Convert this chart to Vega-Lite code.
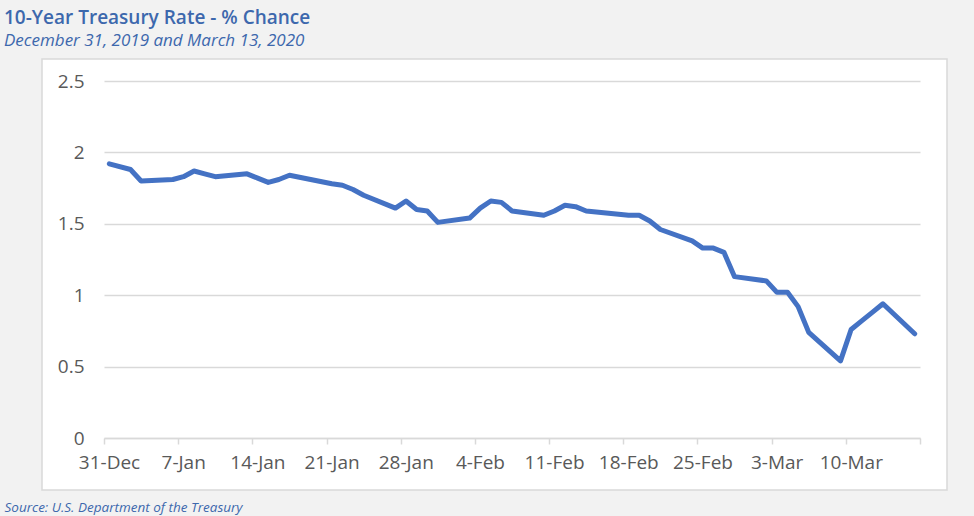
{
  "$schema": "https://vega.github.io/schema/vega-lite/v6.json",
  "autosize": "none",
  "width": 905,
  "height": 431,
  "padding": {"left": 42, "top": 59, "right": 27, "bottom": 26},
  "background": "#f2f2f2",
  "config": {
    "view": {"fill": "white", "stroke": "#d9d9d9", "strokeWidth": 1.5},
    "font": "Open Sans"
  },
  "title": {
    "text": "10-Year Treasury Rate - % Chance",
    "subtitle": "December 31, 2019 and March 13, 2020",
    "anchor": "start",
    "frame": "group",
    "dx": -38,
    "offset": 10,
    "font": "Open Sans",
    "fontSize": 19,
    "fontWeight": 600,
    "color": "#3d68ad",
    "subtitleFont": "Open Sans",
    "subtitleFontSize": 17,
    "subtitleFontStyle": "italic",
    "subtitleColor": "#3d68ad",
    "subtitlePadding": 5
  },
  "data": {
    "values": [
      {"date": "2019-12-31", "rate": 1.92},
      {"date": "2020-01-02", "rate": 1.88},
      {"date": "2020-01-03", "rate": 1.80},
      {"date": "2020-01-06", "rate": 1.81},
      {"date": "2020-01-07", "rate": 1.83},
      {"date": "2020-01-08", "rate": 1.87},
      {"date": "2020-01-09", "rate": 1.85},
      {"date": "2020-01-10", "rate": 1.83},
      {"date": "2020-01-13", "rate": 1.85},
      {"date": "2020-01-14", "rate": 1.82},
      {"date": "2020-01-15", "rate": 1.79},
      {"date": "2020-01-16", "rate": 1.81},
      {"date": "2020-01-17", "rate": 1.84},
      {"date": "2020-01-21", "rate": 1.78},
      {"date": "2020-01-22", "rate": 1.77},
      {"date": "2020-01-23", "rate": 1.74},
      {"date": "2020-01-24", "rate": 1.70},
      {"date": "2020-01-27", "rate": 1.61},
      {"date": "2020-01-28", "rate": 1.66},
      {"date": "2020-01-29", "rate": 1.60},
      {"date": "2020-01-30", "rate": 1.59},
      {"date": "2020-01-31", "rate": 1.51},
      {"date": "2020-02-03", "rate": 1.54},
      {"date": "2020-02-04", "rate": 1.61},
      {"date": "2020-02-05", "rate": 1.66},
      {"date": "2020-02-06", "rate": 1.65},
      {"date": "2020-02-07", "rate": 1.59},
      {"date": "2020-02-10", "rate": 1.56},
      {"date": "2020-02-11", "rate": 1.59},
      {"date": "2020-02-12", "rate": 1.63},
      {"date": "2020-02-13", "rate": 1.62},
      {"date": "2020-02-14", "rate": 1.59},
      {"date": "2020-02-18", "rate": 1.56},
      {"date": "2020-02-19", "rate": 1.56},
      {"date": "2020-02-20", "rate": 1.52},
      {"date": "2020-02-21", "rate": 1.46},
      {"date": "2020-02-24", "rate": 1.38},
      {"date": "2020-02-25", "rate": 1.33},
      {"date": "2020-02-26", "rate": 1.33},
      {"date": "2020-02-27", "rate": 1.30},
      {"date": "2020-02-28", "rate": 1.13},
      {"date": "2020-03-02", "rate": 1.10},
      {"date": "2020-03-03", "rate": 1.02},
      {"date": "2020-03-04", "rate": 1.02},
      {"date": "2020-03-05", "rate": 0.92},
      {"date": "2020-03-06", "rate": 0.74},
      {"date": "2020-03-09", "rate": 0.54},
      {"date": "2020-03-10", "rate": 0.76},
      {"date": "2020-03-11", "rate": 0.82},
      {"date": "2020-03-12", "rate": 0.88},
      {"date": "2020-03-13", "rate": 0.94},
      {"date": "2020-03-16", "rate": 0.73}
    ]
  },
  "mark": {
    "type": "line",
    "color": "#4472c4",
    "strokeWidth": 5,
    "strokeJoin": "round",
    "strokeCap": "round"
  },
  "encoding": {
    "x": {
      "field": "date",
      "type": "temporal",
      "timeUnit": "utcyearmonthdate",
      "bandPosition": 0.5,
      "scale": {
        "domain": [
          {"year": 2019, "month": 12, "date": 31, "utc": true},
          {"year": 2020, "month": 3, "date": 17, "utc": true}
        ],
        "range": [62, 878]
      },
      "axis": {
        "values": [
          {"year": 2019, "month": 12, "date": 31, "utc": true},
          {"year": 2020, "month": 1, "date": 7, "utc": true},
          {"year": 2020, "month": 1, "date": 14, "utc": true},
          {"year": 2020, "month": 1, "date": 21, "utc": true},
          {"year": 2020, "month": 1, "date": 28, "utc": true},
          {"year": 2020, "month": 2, "date": 4, "utc": true},
          {"year": 2020, "month": 2, "date": 11, "utc": true},
          {"year": 2020, "month": 2, "date": 18, "utc": true},
          {"year": 2020, "month": 2, "date": 25, "utc": true},
          {"year": 2020, "month": 3, "date": 3, "utc": true},
          {"year": 2020, "month": 3, "date": 10, "utc": true},
          {"year": 2020, "month": 3, "date": 17, "utc": true}
        ],
        "labelExpr": "datum.value >= 1584403200000 ? '' : utcFormat(datum.value, '%-d-%b')",
        "offset": -52,
        "grid": false,
        "domainColor": "#d9d9d9",
        "domainWidth": 1.5,
        "tickColor": "#d9d9d9",
        "tickWidth": 1.5,
        "tickSize": 6,
        "labelFont": "Open Sans",
        "labelFontSize": 19,
        "labelColor": "#595959",
        "labelPadding": 9,
        "labelOffset": 5,
        "labelOverlap": false,
        "labelFlush": false,
        "title": "Source: U.S. Department of the Treasury",
        "titleAnchor": "start",
        "titleAlign": "left",
        "titleBaseline": "alphabetic",
        "titleX": -38,
        "titleY": 73,
        "titleFont": "Open Sans",
        "titleFontStyle": "italic",
        "titleFontWeight": "normal",
        "titleFontSize": 13.5,
        "titleColor": "#3d68ad"
      }
    },
    "y": {
      "field": "rate",
      "type": "quantitative",
      "scale": {"domain": [0, 2.5], "range": [379, 22], "nice": false},
      "axis": {
        "values": [0, 0.5, 1, 1.5, 2, 2.5],
        "format": ".1~f",
        "title": null,
        "domain": false,
        "ticks": false,
        "grid": true,
        "gridColor": "#d9d9d9",
        "gridWidth": 1.5,
        "offset": -52,
        "labelPadding": 10,
        "labelFont": "Open Sans",
        "labelFontSize": 19,
        "labelColor": "#595959"
      }
    }
  }
}
